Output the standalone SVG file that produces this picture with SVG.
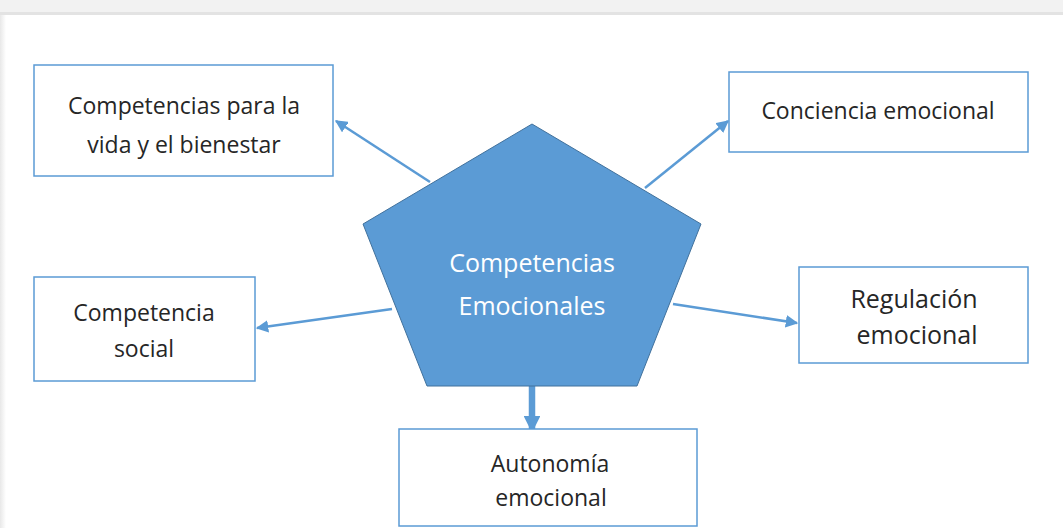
<svg xmlns="http://www.w3.org/2000/svg" width="1063" height="528" viewBox="0 0 1063 528">
  <defs>
    <style>
      .box { fill: #ffffff; stroke: #5b9bd5; stroke-width: 1.5; }
      .lbl { font-family: "Open Sans", "Noto Sans", "Liberation Sans", sans-serif; font-size: 23px; fill: #262626; text-anchor: middle; }
      .big { font-size: 25px; }
      .ctr { font-family: "Open Sans", "Noto Sans", "Liberation Sans", sans-serif; font-size: 25px; fill: #ffffff; text-anchor: middle; }
      .conn { stroke: #5b9bd5; stroke-width: 2.5; fill: none; }
    </style>
    <marker id="ah" viewBox="0 0 10 10" refX="9" refY="5" markerWidth="5" markerHeight="5" orient="auto" markerUnits="strokeWidth">
      <path d="M0,0 L10,5 L0,10 z" fill="#5b9bd5"/>
    </marker>
    <marker id="ahb" viewBox="0 0 10 10" refX="9" refY="5" markerWidth="2.6" markerHeight="2.6" orient="auto" markerUnits="strokeWidth">
      <path d="M0,0 L10,5 L0,10 z" fill="#5b9bd5"/>
    </marker>
    <linearGradient id="lg" x1="0" y1="0" x2="1" y2="0">
      <stop offset="0" stop-color="#e8e8e8"/>
      <stop offset="1" stop-color="#ffffff"/>
    </linearGradient>
  </defs>

  <rect x="0" y="0" width="1063" height="528" fill="#ffffff"/>
  <rect x="0" y="14" width="6" height="514" fill="url(#lg)"/>
  <rect x="0" y="0" width="1063" height="12" fill="#f2f2f2"/>
  <rect x="0" y="12" width="1063" height="3" fill="#e3e3e3"/>

  <g id="connectors">
    <line class="conn" x1="430" y1="182" x2="336" y2="121" marker-end="url(#ah)"/>
    <line class="conn" x1="645" y1="188" x2="728" y2="121" marker-end="url(#ah)"/>
    <line class="conn" x1="392" y1="309" x2="257" y2="328" marker-end="url(#ah)"/>
    <line class="conn" x1="673" y1="304" x2="797" y2="323" marker-end="url(#ah)"/>
    <line x1="532" y1="385" x2="532" y2="431" stroke="#5b9bd5" stroke-width="6.5" marker-end="url(#ahb)"/>
  </g>

  <g id="center">
    <polygon points="532,124 701,224 637,386 427,386 363,224" fill="#5b9bd5" stroke="#41719c" stroke-width="1"/>
    <text class="ctr" x="532" y="272">Competencias</text>
    <text class="ctr" x="532" y="315">Emocionales</text>
  </g>

  <g id="n-vida">
    <rect class="box" x="34" y="65" width="299" height="111"/>
    <text class="lbl" x="184" y="114">Competencias para la</text>
    <text class="lbl" x="184" y="153">vida y el bienestar</text>
  </g>

  <g id="n-conciencia">
    <rect class="box" x="729" y="72" width="299" height="80"/>
    <text class="lbl" x="878" y="119">Conciencia emocional</text>
  </g>

  <g id="n-social">
    <rect class="box" x="34" y="277" width="221" height="104"/>
    <text class="lbl" x="144" y="321">Competencia</text>
    <text class="lbl" x="144" y="357">social</text>
  </g>

  <g id="n-regulacion">
    <rect class="box" x="799" y="267" width="229" height="96"/>
    <text class="lbl big" x="914" y="308">Regulación</text>
    <text class="lbl big" x="917" y="344">emocional</text>
  </g>

  <g id="n-autonomia">
    <rect class="box" x="399" y="429" width="298" height="97"/>
    <text class="lbl" x="550" y="472">Autonomía</text>
    <text class="lbl" x="551" y="506">emocional</text>
  </g>
</svg>
